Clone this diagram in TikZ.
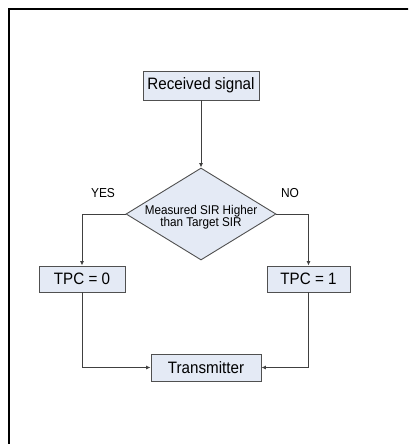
\documentclass[tikz,border=0pt]{standalone}
\usepackage{fontspec}
\setmainfont[FakeStretch=0.92]{Liberation Sans}
\usetikzlibrary{shapes.geometric,arrows.meta}
\definecolor{boxfill}{HTML}{E4EAF5}
\definecolor{boxline}{HTML}{505050}
\definecolor{wire}{HTML}{404040}
\begin{document}
\begin{tikzpicture}[x=1pt,y=-1pt,
  box/.style={draw=boxline,fill=boxfill,line width=0.9pt,inner sep=0pt,font=\fontsize{16.5}{19}\selectfont},
  conn/.style={draw=wire,line width=0.9pt,-{Latex[length=4.5pt,width=4pt]}},
  lab/.style={inner sep=0pt,font=\fontsize{13}{15}\selectfont}]
\path[use as bounding box] (0,0) rectangle (408,444);
\clip (0,0) rectangle (408,444);
\draw[line width=2pt] (9,9) rectangle (430,470);
\node[box,minimum width=116pt,minimum height=29pt] (rs) at (201,85.5) {Received signal};
\node[draw=boxline,fill=boxfill,line width=0.9pt,shape=diamond,inner sep=0pt,
      minimum width=150pt,minimum height=92pt] (dec) at (201,214) {};
\node[align=center,inner sep=0pt,font=\fontsize{12.7}{12.5}\selectfont] (dtxt) at (201,217)
  {Measured SIR Higher\\than Target SIR};
\node[box,minimum width=86pt,minimum height=26pt] (t0) at (82,279) {TPC = 0};
\node[box,minimum width=83pt,minimum height=26pt] (t1) at (308.5,279) {TPC = 1};
\node[box,minimum width=110pt,minimum height=27pt] (tx) at (206,367.5) {Transmitter};
\node[lab] (yes) at (103,193) {YES};
\node[lab] (no) at (290,193) {NO};
\draw[conn] (rs) -- (dec);
\draw[conn] (dec.west) -| (t0);
\draw[conn] (dec.east) -| (t1);
\draw[conn] (t0) |- (tx);
\draw[conn] (t1) |- (tx);
\end{tikzpicture}
\end{document}
